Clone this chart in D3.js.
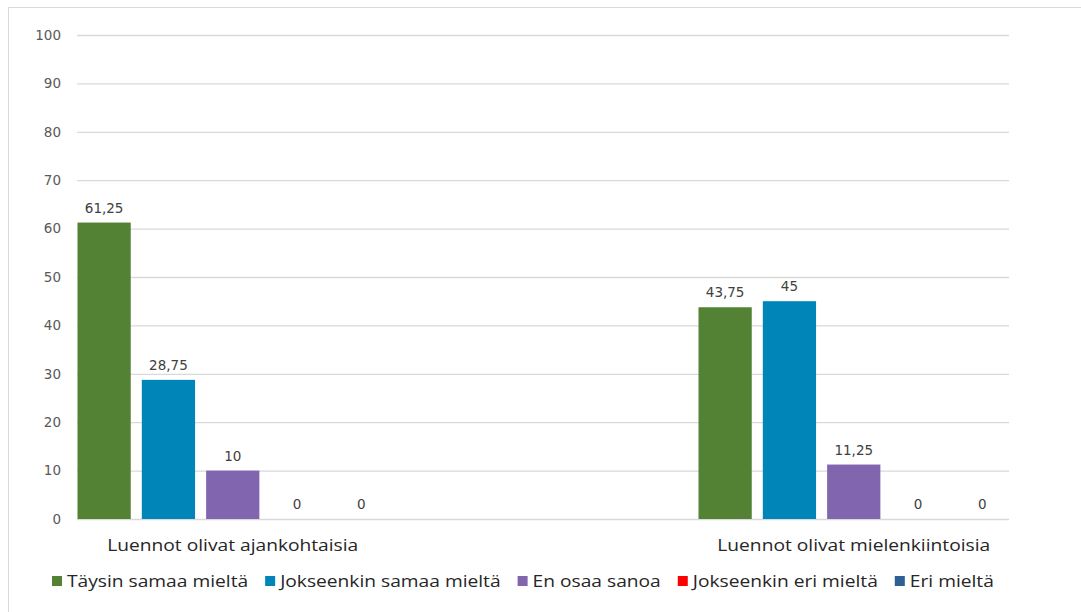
<!DOCTYPE html>
<html>
<head>
<meta charset="utf-8">
<script src="https://cdn.jsdelivr.net/npm/d3@7"></script>
<style>
  body { margin: 0; background: #fff; }
</style>
</head>
<body>
<div id="chart"></div>
<script>
// data
var categories = ["Luennot olivat ajankohtaisia", "Luennot olivat mielenkiintoisia"];
var seriesNames = ["Täysin samaa mieltä", "Jokseenkin samaa mieltä", "En osaa sanoa", "Jokseenkin eri mieltä", "Eri mieltä"];
var seriesColors = ["#548235", "#0085B9", "#8165AF", "#FF0000", "#2E5F95"];
var ajankohtaisia = [61.25, 28.75, 10, 0, 0];
var mielenkiintoisia = [43.75, 45, 11.25, 0, 0];
var yTicks = [0, 10, 20, 30, 40, 50, 60, 70, 80, 90, 100];

var values = [ajankohtaisia, mielenkiintoisia];
var data = [];
categories.forEach(function(c, i) {
    seriesNames.forEach(function(s, j) {
        data.push({cat: c, series: s, value: values[i][j]});
    });
});

var W = 1081, H = 612;
var plot = {left: 77, right: 1009, top: 35, bottom: 519};
var stretch = 1.2; // the screenshot text is a bit wider than Open Sans

var svg = d3.select("#chart").append("svg")
    .attr("width", W)
    .attr("height", H);

// outer frame (runs off the right and bottom edge like the screenshot)
svg.append("rect")
    .attr("x", 8.5).attr("y", 7.5)
    .attr("width", 1200).attr("height", 700)
    .attr("fill", "none")
    .attr("stroke", "#d9d9d9");

var y = d3.scaleLinear()
    .domain([0, 100])
    .range([plot.bottom, plot.top]);

var x0 = d3.scaleBand()
    .domain(categories)
    .range([77.5, plot.right])
    .paddingInner(0.5)
    .paddingOuter(0);

var x1 = d3.scaleBand()
    .domain(seriesNames)
    .range([0, x0.bandwidth()])
    .paddingInner(0.172)
    .paddingOuter(0);

var color = d3.scaleOrdinal().domain(seriesNames).range(seriesColors);

// gridlines
var grid = svg.append("g")
    .attr("transform", "translate(" + plot.left + ",0)")
    .call(d3.axisLeft(y).tickValues(yTicks).tickSize(-(plot.right - plot.left)).tickFormat(""));
grid.select(".domain").remove();
grid.selectAll("line").attr("stroke", "#d9d9d9").attr("stroke-width", 1.3);

// y labels
var yAxis = svg.append("g")
    .attr("transform", "translate(" + plot.left + ",0)")
    .call(d3.axisLeft(y).tickValues(yTicks).tickSize(0).tickPadding(16));
yAxis.select(".domain").remove();
yAxis.selectAll("text")
    .attr("font-family", "DejaVu Sans, Verdana, sans-serif")
    .attr("font-size", 13.5)
    .attr("fill", "#595959");

// bars
var groups = svg.append("g").selectAll("g")
    .data(categories)
    .enter().append("g")
    .attr("transform", function(d) { return "translate(" + x0(d) + ",0)"; });

groups.selectAll("rect")
    .data(function(c) { return data.filter(function(d) { return d.cat === c; }); })
    .enter().append("rect")
    .attr("x", function(d) { return x1(d.series); })
    .attr("y", function(d) { return y(d.value); })
    .attr("width", x1.bandwidth())
    .attr("height", function(d) { return y(0) - y(d.value); })
    .attr("fill", function(d) { return color(d.series); });

groups.selectAll("text.val")
    .data(function(c) { return data.filter(function(d) { return d.cat === c; }); })
    .enter().append("text")
    .attr("class", "val")
    .attr("x", function(d) { return x1(d.series) + x1.bandwidth() / 2; })
    .attr("y", function(d) { return y(d.value) - 10; })
    .attr("text-anchor", "middle")
    .attr("font-family", "DejaVu Sans, Verdana, sans-serif")
    .attr("font-size", 13.5)
    .attr("fill", "#404040")
    .text(function(d) { return String(d.value).replace(".", ","); });

// x axis (category labels)
var xAxis = svg.append("g")
    .attr("transform", "translate(0," + plot.bottom + ")")
    .call(d3.axisBottom(x0).tickSize(0).tickPadding(21));
xAxis.select(".domain").remove();
xAxis.selectAll("text")
    .attr("font-family", "Open Sans, sans-serif")
    .attr("font-size", 16)
    .attr("fill", "#262626")
    .attr("transform", "scale(" + stretch + ",1)");

// legend
var legend = svg.append("g").attr("transform", "translate(52,587)");
var lx = 0;
seriesNames.forEach(function(s) {
    var item = legend.append("g").attr("transform", "translate(" + lx + ",0)");
    item.append("rect")
        .attr("x", 0).attr("y", -11)
        .attr("width", 10).attr("height", 10)
        .attr("fill", color(s));
    var t = item.append("text")
        .attr("transform", "translate(15,0) scale(" + stretch + ",1)")
        .attr("font-family", "Open Sans, sans-serif")
        .attr("font-size", 16)
        .attr("fill", "#262626")
        .text(s);
    lx += 15 + t.node().getComputedTextLength() * stretch + 17;
});
</script>
</body>
</html>
